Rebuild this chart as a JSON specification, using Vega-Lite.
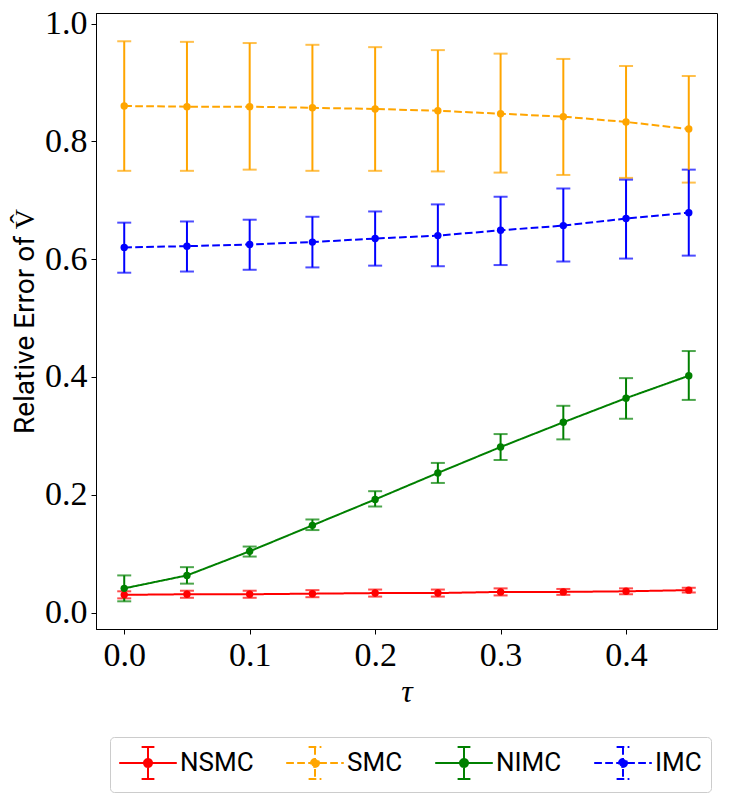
{
  "$schema": "https://vega.github.io/schema/vega-lite/v6.json",
  "autosize": {"type": "none"},
  "padding": {"left": 96, "top": 13, "right": 13, "bottom": 167},
  "width": 621,
  "height": 616,
  "background": "white",
  "data": {
    "values": [
      {"series": "NSMC", "tau": 0.0, "mean": 0.030, "lo": 0.024, "hi": 0.036},
      {"series": "NSMC", "tau": 0.05, "mean": 0.031, "lo": 0.025, "hi": 0.037},
      {"series": "NSMC", "tau": 0.1, "mean": 0.031, "lo": 0.025, "hi": 0.037},
      {"series": "NSMC", "tau": 0.15, "mean": 0.032, "lo": 0.026, "hi": 0.038},
      {"series": "NSMC", "tau": 0.2, "mean": 0.033, "lo": 0.027, "hi": 0.039},
      {"series": "NSMC", "tau": 0.25, "mean": 0.033, "lo": 0.027, "hi": 0.039},
      {"series": "NSMC", "tau": 0.3, "mean": 0.035, "lo": 0.029, "hi": 0.041},
      {"series": "NSMC", "tau": 0.35, "mean": 0.035, "lo": 0.030, "hi": 0.040},
      {"series": "NSMC", "tau": 0.4, "mean": 0.036, "lo": 0.031, "hi": 0.041},
      {"series": "NSMC", "tau": 0.45, "mean": 0.038, "lo": 0.034, "hi": 0.042},
      {"series": "SMC", "tau": 0.0, "mean": 0.860, "lo": 0.750, "hi": 0.970},
      {"series": "SMC", "tau": 0.05, "mean": 0.859, "lo": 0.750, "hi": 0.969},
      {"series": "SMC", "tau": 0.1, "mean": 0.859, "lo": 0.752, "hi": 0.967},
      {"series": "SMC", "tau": 0.15, "mean": 0.857, "lo": 0.750, "hi": 0.964},
      {"series": "SMC", "tau": 0.2, "mean": 0.855, "lo": 0.750, "hi": 0.960},
      {"series": "SMC", "tau": 0.25, "mean": 0.852, "lo": 0.749, "hi": 0.955},
      {"series": "SMC", "tau": 0.3, "mean": 0.847, "lo": 0.747, "hi": 0.949},
      {"series": "SMC", "tau": 0.35, "mean": 0.842, "lo": 0.743, "hi": 0.940},
      {"series": "SMC", "tau": 0.4, "mean": 0.833, "lo": 0.738, "hi": 0.928},
      {"series": "SMC", "tau": 0.45, "mean": 0.821, "lo": 0.730, "hi": 0.911},
      {"series": "NIMC", "tau": 0.0, "mean": 0.041, "lo": 0.019, "hi": 0.063},
      {"series": "NIMC", "tau": 0.05, "mean": 0.063, "lo": 0.049, "hi": 0.077},
      {"series": "NIMC", "tau": 0.1, "mean": 0.104, "lo": 0.095, "hi": 0.112},
      {"series": "NIMC", "tau": 0.15, "mean": 0.148, "lo": 0.140, "hi": 0.158},
      {"series": "NIMC", "tau": 0.2, "mean": 0.192, "lo": 0.180, "hi": 0.206},
      {"series": "NIMC", "tau": 0.25, "mean": 0.237, "lo": 0.220, "hi": 0.254},
      {"series": "NIMC", "tau": 0.3, "mean": 0.281, "lo": 0.259, "hi": 0.303},
      {"series": "NIMC", "tau": 0.35, "mean": 0.323, "lo": 0.294, "hi": 0.351},
      {"series": "NIMC", "tau": 0.4, "mean": 0.364, "lo": 0.329, "hi": 0.398},
      {"series": "NIMC", "tau": 0.45, "mean": 0.402, "lo": 0.361, "hi": 0.444},
      {"series": "IMC", "tau": 0.0, "mean": 0.620, "lo": 0.577, "hi": 0.662},
      {"series": "IMC", "tau": 0.05, "mean": 0.622, "lo": 0.579, "hi": 0.664},
      {"series": "IMC", "tau": 0.1, "mean": 0.625, "lo": 0.582, "hi": 0.667},
      {"series": "IMC", "tau": 0.15, "mean": 0.629, "lo": 0.586, "hi": 0.672},
      {"series": "IMC", "tau": 0.2, "mean": 0.635, "lo": 0.589, "hi": 0.681},
      {"series": "IMC", "tau": 0.25, "mean": 0.640, "lo": 0.588, "hi": 0.693},
      {"series": "IMC", "tau": 0.3, "mean": 0.649, "lo": 0.590, "hi": 0.706},
      {"series": "IMC", "tau": 0.35, "mean": 0.657, "lo": 0.596, "hi": 0.720},
      {"series": "IMC", "tau": 0.4, "mean": 0.669, "lo": 0.601, "hi": 0.735},
      {"series": "IMC", "tau": 0.45, "mean": 0.679, "lo": 0.606, "hi": 0.752}
    ]
  },
  "encoding": {
    "x": {
      "field": "tau",
      "type": "quantitative",
      "scale": {"domain": [-0.0225, 0.4725], "nice": false, "zero": false},
      "axis": {
        "values": [0, 0.1, 0.2, 0.3, 0.4],
        "format": ".1f",
        "title": "τ",
        "titleFont": "Liberation Serif",
        "titleFontStyle": "italic",
        "titleFontWeight": "normal",
        "titleFontSize": 32,
        "titlePadding": 4
      }
    },
    "color": {
      "field": "series",
      "type": "nominal",
      "scale": {
        "domain": ["NSMC", "SMC", "NIMC", "IMC"],
        "range": ["#ff0000", "#ffa500", "#008000", "#0000ff"]
      }
    }
  },
  "layer": [
    {
      "mark": {"type": "errorbar", "ticks": {"size": 14, "thickness": 2}, "rule": {"strokeWidth": 2}},
      "encoding": {
        "y": {
          "field": "lo",
          "type": "quantitative",
          "scale": {"domain": [-0.028, 1.018], "nice": false, "zero": false},
          "axis": {
            "values": [0, 0.2, 0.4, 0.6, 0.8, 1.0],
            "format": ".1f",
            "title": "Relative Error of V̂",
            "titleFont": "Roboto",
            "titleFontWeight": "normal",
            "titleFontSize": 28,
            "titlePadding": 5
          }
        },
        "y2": {"field": "hi"}
      }
    },
    {
      "mark": {"type": "line", "strokeWidth": 2},
      "encoding": {
        "y": {"field": "mean", "type": "quantitative"},
        "strokeDash": {
          "field": "series",
          "type": "nominal",
          "scale": {
            "domain": ["NSMC", "SMC", "NIMC", "IMC"],
            "range": [[1, 0], [7.7, 3.3], [1, 0], [7.7, 3.3]]
          }
        }
      }
    },
    {
      "mark": {"type": "point", "filled": true, "size": 55, "opacity": 1},
      "encoding": {
        "y": {"field": "mean", "type": "quantitative"}
      }
    }
  ],
  "config": {
    "view": {"stroke": "black", "strokeWidth": 1},
    "axis": {
      "grid": false,
      "domainColor": "black",
      "tickColor": "black",
      "tickSize": 5,
      "tickWidth": 1,
      "labelFont": "Liberation Serif",
      "labelFontSize": 34,
      "labelColor": "black",
      "labelPadding": 4,
      "titleColor": "black"
    },
    "legend": {
      "orient": "none",
      "legendX": 14,
      "legendY": 724,
      "direction": "horizontal",
      "columns": 4,
      "title": null,
      "padding": 9,
      "strokeColor": "#cccccc",
      "fillColor": "white",
      "cornerRadius": 4,
      "columnPadding": 28,
      "symbolType": "M-1.8,0L1.8,0M0,-1L0,1M-0.4,-1L0.4,-1M-0.4,1L0.4,1M0.25,0A0.25,0.25,0,1,1,-0.25,0A0.25,0.25,0,1,1,0.25,0Z",
      "symbolSize": 1024,
      "symbolStrokeWidth": 2,
      "symbolOpacity": 1,
      "symbolOffset": 12,
      "labelOffset": 15,
      "labelFont": "Roboto",
      "labelFontSize": 26,
      "labelColor": "black"
    }
  }
}
